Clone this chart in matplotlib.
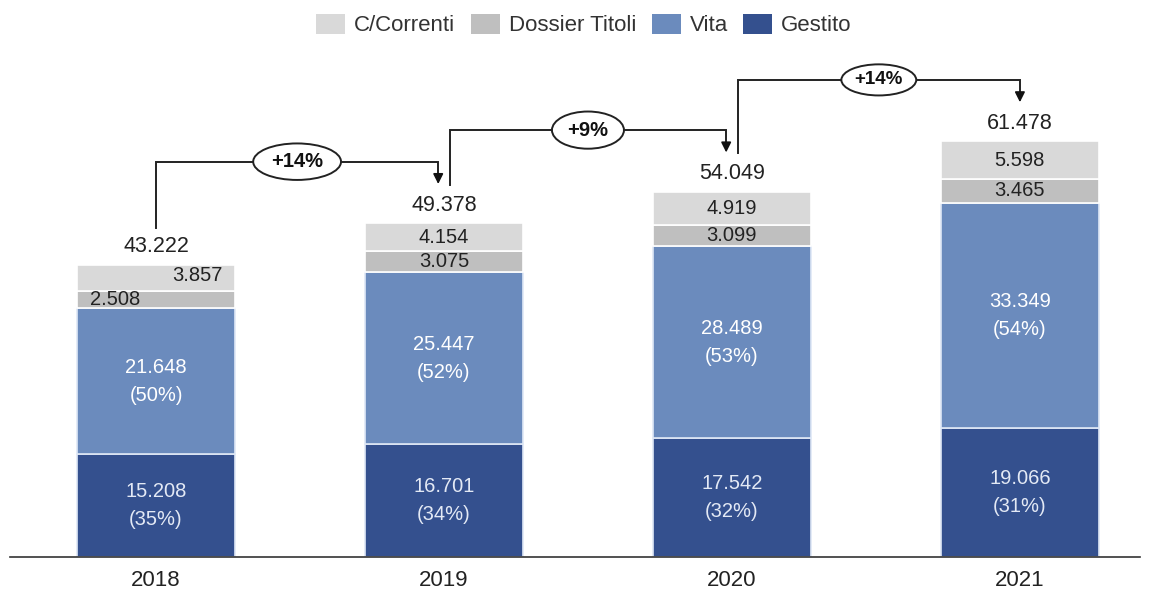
import matplotlib
matplotlib.use("Agg")
import matplotlib.pyplot as plt
from matplotlib.patches import Ellipse, Patch

plt.rcParams['font.family'] = ['Liberation Sans', 'DejaVu Sans']

years = ["2018", "2019", "2020", "2021"]
gestito = [15.208, 16.701, 17.542, 19.066]
vita = [21.648, 25.447, 28.489, 33.349]
dossier = [2.508, 3.075, 3.099, 3.465]
correnti = [3.857, 4.154, 4.919, 5.598]
totals = [43.222, 49.378, 54.049, 61.478]
growth_labels = ["+14%", "+9%", "+14%"]

c_cc = "#d9d9d9"
c_dt = "#bfbfbf"
c_vita = "#6b8bbd"
c_gest = "#34508e"

# ellipse sizes (x-units, y-units) for the growth bubbles
ell_w = [0.305, 0.25, 0.26]
ell_h = [5.4, 5.5, 4.6]

fig = plt.figure(figsize=(11.54, 5.93), dpi=100)
ax = fig.add_axes([10/1154, 36/593, 1130/1154, 557/593])

x = list(range(len(years)))
w = 0.55
b1 = gestito
b2 = [g + v for g, v in zip(gestito, vita)]
b3 = [a + d for a, d in zip(b2, dossier)]

ax.bar(x, gestito, w, color=c_gest, edgecolor="#dfe8f6", linewidth=1.2)
ax.bar(x, vita, w, bottom=b1, color=c_vita, edgecolor="#dfe8f6", linewidth=1.2)
ax.bar(x, dossier, w, bottom=b2, color=c_dt, edgecolor="white", linewidth=1.2)
ax.bar(x, correnti, w, bottom=b3, color=c_cc, edgecolor="white", linewidth=1.2)

fs = 14.5
for i in x:
    tot = totals[i]
    ax.text(i, gestito[i] / 2, f"{gestito[i]:.3f}\n({gestito[i]/tot*100:.0f}%)",
            ha="center", va="center", color="#e3e9f5", fontsize=fs, linespacing=1.6)
    ax.text(i, b1[i] + vita[i] / 2, f"{vita[i]:.3f}\n({vita[i]/tot*100:.0f}%)",
            ha="center", va="center", color="white", fontsize=fs, linespacing=1.6)
    if i == 0:
        ax.text(i - w / 2 + 0.045, b2[i] + dossier[i] / 2, f"{dossier[i]:.3f}",
                ha="left", va="center", color="#222222", fontsize=fs)
        ax.text(i + w / 2 - 0.045, b3[i] + correnti[i] / 2 + 0.3, f"{correnti[i]:.3f}",
                ha="right", va="center", color="#222222", fontsize=fs)
    else:
        ax.text(i, b2[i] + dossier[i] / 2, f"{dossier[i]:.3f}",
                ha="center", va="center", color="#222222", fontsize=fs)
        ax.text(i, b3[i] + correnti[i] / 2, f"{correnti[i]:.3f}",
                ha="center", va="center", color="#222222", fontsize=fs)
    ax.text(i, tot + 2.65, f"{tot:.3f}", ha="center", va="center",
            color="#222222", fontsize=15.5)

# growth connectors
for i in range(len(years) - 1):
    xs = i if i == 0 else i + 0.02
    xe = i + 1 - 0.02 if i < 2 else i + 1
    ys = totals[i] + (5.5 if i == 0 else 5.7)
    ye = totals[i + 1] + 5.8
    lvl = ye + 3.3
    ax.plot([xs, xs, xe, xe], [ys, lvl, lvl, ye + 0.9], color="#222222", lw=1.4,
            solid_joinstyle="miter")
    ax.annotate("", xy=(xe, ye), xytext=(xe, ye + 1.2),
                arrowprops=dict(arrowstyle="-|>", color="#111111", lw=1.2,
                                mutation_scale=15, shrinkA=0, shrinkB=0))
    xm = (xs + xe) / 2
    ax.add_patch(Ellipse((xm, lvl), ell_w[i], ell_h[i], facecolor="white",
                         edgecolor="#222222", lw=1.4, zorder=5))
    ax.text(xm, lvl, growth_labels[i], ha="center", va="center",
            fontsize=14.5 if i < 2 else 13.5, fontweight="bold", color="#111111", zorder=6)

ax.set_xlim(-0.507, 3.417)
ax.set_ylim(0, 557 / 6.76)
ax.set_xticks(x)
ax.set_xticklabels(years, fontsize=16, color="#222222")
ax.tick_params(axis="x", length=0, pad=9)
ax.set_yticks([])
for s in ["top", "right", "left"]:
    ax.spines[s].set_visible(False)
ax.spines["bottom"].set_color("#333333")
ax.spines["bottom"].set_linewidth(1.2)

handles = [Patch(facecolor=c_cc, label="C/Correnti"),
           Patch(facecolor=c_dt, label="Dossier Titoli"),
           Patch(facecolor=c_vita, label="Vita"),
           Patch(facecolor=c_gest, label="Gestito")]
fig.legend(handles=handles, loc="center", bbox_to_anchor=(584/1154, 1 - 25/593),
           ncol=4, frameon=False, fontsize=16, handlelength=1.3, handleheight=1.0,
           handletextpad=0.4, columnspacing=0.7, labelcolor="#333333")

fig.savefig("out.png", dpi=100)
